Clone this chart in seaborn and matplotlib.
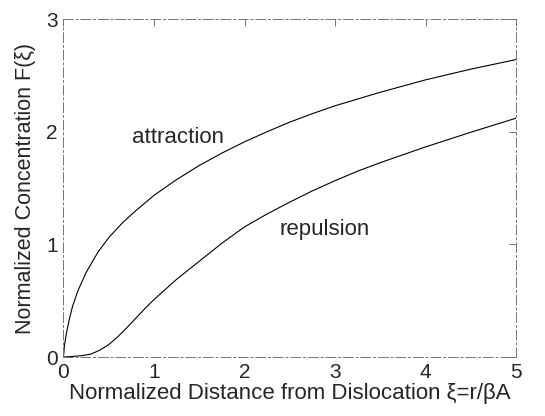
import pandas as pd
import matplotlib
matplotlib.use("Agg")
import matplotlib.pyplot as plt
import seaborn as sns

# Data
attr_x = [0.0, 0.01, 0.03, 0.06, 0.1, 0.16, 0.25, 0.38, 0.5, 0.65, 0.8, 1.0,
          1.25, 1.5, 1.75, 2.0, 2.25, 2.5, 2.75, 3.0, 3.5, 4.0, 4.5, 5.0]
attr_y = [0.0, 0.10, 0.20, 0.32, 0.45, 0.59, 0.75, 0.93, 1.06, 1.19, 1.30, 1.435,
          1.575, 1.70, 1.81, 1.91, 2.00, 2.085, 2.16, 2.23, 2.35, 2.46, 2.555, 2.64]

rep_x = [0.0, 0.1, 0.2, 0.3, 0.4, 0.5, 0.6, 0.7, 0.8, 0.9, 1.0, 1.25, 1.5,
         1.75, 2.0, 2.25, 2.5, 2.75, 3.0, 3.25, 3.5, 4.0, 4.5, 5.0]
rep_y = [0.0, 0.005, 0.012, 0.025, 0.06, 0.11, 0.18, 0.26, 0.345, 0.43, 0.51,
         0.69, 0.85, 1.01, 1.155, 1.27, 1.375, 1.475, 1.565, 1.65, 1.725, 1.865,
         1.995, 2.12]

x_ticks = [0, 1, 2, 3, 4, 5]
y_ticks = [0, 1, 2, 3]

df = pd.concat([
    pd.DataFrame({"xi": attr_x, "F": attr_y, "case": "attraction"}),
    pd.DataFrame({"xi": rep_x, "F": rep_y, "case": "repulsion"}),
])

sns.set_theme(style="white")
plt.rcParams["font.family"] = ["Liberation Sans", "DejaVu Sans"]

fig = plt.figure(figsize=(5.45, 4.16), dpi=100)
ax = fig.add_axes([0.1165, 0.1418, 0.8305, 0.8125])

sns.lineplot(data=df, x="xi", y="F", hue="case", units="case", estimator=None,
             sort=False, palette=["black", "black"], linewidth=0.8,
             legend=False, ax=ax)

ax.set_xlim(0, 5)
ax.set_ylim(0, 3)
ax.set_xticks(x_ticks)
ax.set_yticks(y_ticks)
ax.tick_params(direction="in", length=5, width=0.7, color="0.45",
               top=True, right=True, labelsize=15, pad=4)
for sp in ax.spines.values():
    sp.set_visible(True)
    sp.set_color("0.45")
    sp.set_linewidth(0.7)
    sp.set_linestyle((0, (10, 3, 2, 3)))

ax.text(1.27, 1.95, "attraction", fontsize=16, ha="center", va="center")
ax.text(2.88, 1.13, "repulsion", fontsize=16, ha="center", va="center")

ax.set_xlabel("Normalized Distance from Dislocation \u03be=r/\u03b2A",
              fontsize=16, labelpad=1)
ax.set_ylabel("Normalized Concentration F(\u03be)", fontsize=15.5, labelpad=7)

fig.savefig("out.png", dpi=100)
plt.close(fig)
